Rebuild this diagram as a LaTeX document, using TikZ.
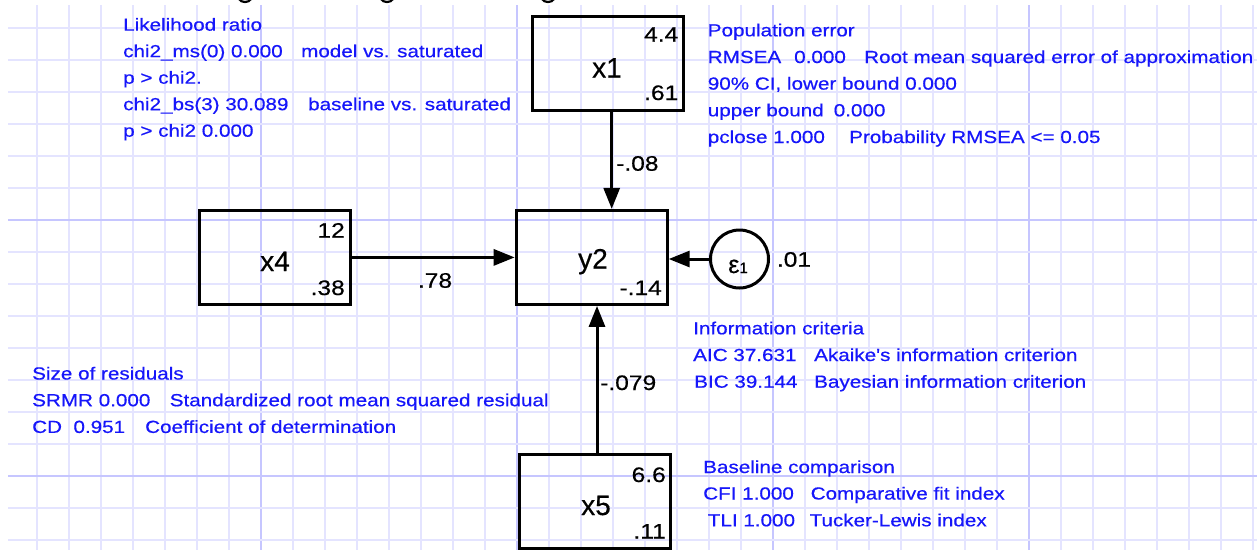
\documentclass[tikz,border=0pt]{standalone}
\usepackage{fontspec}
\setmainfont{Liberation Sans}
\newfontfamily\statsans[FakeStretch=1.18,FakeBold=0.5]{Liberation Sans}
\newfontfamily\numsans[FakeStretch=1.17,FakeBold=0.5]{Liberation Sans}
\newfontfamily\namesans[FakeBold=0.4]{Liberation Sans}
\usetikzlibrary{arrows.meta}
\definecolor{gridminor}{RGB}{228,228,255}
\definecolor{gridmajor}{RGB}{198,198,255}
\definecolor{statblue}{RGB}{22,22,250}
\tikzset{
  varbox/.style={draw=black, line width=3pt, minimum width=151pt, minimum height=94pt, inner sep=0pt},
  errcirc/.style={draw=black, line width=3pt, circle, minimum size=58pt, inner sep=0pt},
  varname/.style={font=\namesans\fontsize{28}{28}\selectfont, anchor=base, inner sep=0pt},
  cornernum/.style={font=\numsans\fontsize{21}{21}\selectfont, anchor=base east, inner sep=0pt},
  pathnum/.style={font=\numsans\fontsize{21}{21}\selectfont, inner sep=0pt},
  statline/.style={font=\statsans\fontsize{17.5}{20}\selectfont, text=statblue, anchor=base west, inner sep=0pt},
  patharrow/.style={line width=3pt, -{Triangle[length=21pt,width=16pt]}},
  titlefrag/.style={line width=2.2pt, line cap=round},
  gminor/.style={draw=gridminor, line width=1.3pt},
  gmajor/.style={draw=gridmajor, line width=1.6pt}
}
\begin{document}
\begin{tikzpicture}[x=1pt, y=-1pt]
\useasboundingbox (0,0) rectangle (1257,550);
\fill[white] (0,0) rectangle (1257,550);
% grid
\foreach \k in {1,...,39}{
  \pgfmathtruncatemacro{\m}{mod(\k,8)}
  \ifnum\m=0
    \draw[gmajor] (5+32*\k,5) -- (5+32*\k,550);
  \else
    \draw[gminor] (5+32*\k,5) -- (5+32*\k,550);
  \fi
}
\foreach \j in {-6,...,10}{
  \pgfmathtruncatemacro{\m}{mod(\j+16,8)}
  \ifnum\m=0
    \draw[gmajor] (8,220+32*\j) -- (1257,220+32*\j);
  \else
    \draw[gminor] (8,220+32*\j) -- (1257,220+32*\j);
  \fi
}
% cut-off bottoms of the title glyphs
\foreach \gx in {245,387,548}{
  \draw[titlefrag] (\gx-6,-1) .. controls (\gx-4,3) and (\gx+4,3) .. (\gx+6,-1);
}
% boxes
\node[varbox] (x1) at (608,63) {};
\node[varbox] (x4) at (275,257.4) {};
\node[varbox] (y2) at (591.7,257.4) {};
\node[varbox] (x5) at (595,501) {};
\node[errcirc] (e1) at (739.5,259) {};
% names
\node[varname] (x1l) at (607,77.5) {x1};
\node[varname] (x4l) at (275,271) {x4};
\node[varname] (y2l) at (593,268.5) {y2};
\node[varname] (x5l) at (596,515) {x5};
\node[anchor=base, inner sep=0pt] (e1l) at (738,273) {{\namesans\fontsize{25}{25}\selectfont ε}{\namesans\fontsize{15}{15}\selectfont 1}};
% corner numbers
\node[cornernum] (x1m) at (678.5,41.7) {4.4};
\node[cornernum] (x1v) at (678.5,100) {.61};
\node[cornernum] (x4m) at (345,237.7) {12};
\node[cornernum] (x4v) at (345,295) {.38};
\node[cornernum] (y2c) at (662,295) {-.14};
\node[cornernum] (x5m) at (666,482) {6.6};
\node[cornernum] (x5v) at (666,538.5) {.11};
% connectors
\coordinate (c1) at (611.7,0);
\coordinate (c5) at (597,0);
\draw[patharrow] (x1.south -| c1) -- (y2.north -| c1);
\draw[patharrow] (x4.east) -- (y2.west);
\draw[patharrow] (x5.north -| c5) -- (y2.south -| c5);
\draw[patharrow] (e1.west) -- (e1.west -| y2.east);
% path labels
\node[pathnum, anchor=base] (l78) at (435,287.7) {.78};
\node[pathnum, anchor=base west] (l08) at (616,170.7) {-.08};
\node[pathnum, anchor=base west] (l079) at (600,390) {-.079};
\node[pathnum, anchor=base west] (l01) at (776.7,266.7) {.01};
% likelihood ratio
\node[statline] (lr0) at (123,30.7) {Likelihood ratio};
\node[statline] (lr1) at (123,57.2) {\makebox[178pt][l]{chi2\_ms(0) 0.000}model vs. saturated};
\node[statline] (lr2) at (123,83.7) {p > chi2.};
\node[statline] (lr3) at (123,110.2) {\makebox[185pt][l]{chi2\_bs(3) 30.089}baseline vs. saturated};
\node[statline] (lr4) at (123,136.7) {p > chi2 0.000};
% population error
\node[statline] (pe0) at (707.6,36.3) {Population error};
\node[statline] (pe1) at (707.6,63) {\makebox[86.4pt][l]{RMSEA}\makebox[70pt][l]{0.000}Root mean squared error of approximation};
\node[statline] (pe2) at (707.6,89.6) {90\% CI, lower bound 0.000};
\node[statline] (pe3) at (707.6,116.3) {\makebox[126pt][l]{upper bound}0.000};
\node[statline] (pe4) at (707.6,143) {\makebox[141.4pt][l]{pclose 1.000}Probability RMSEA <= 0.05};
% information criteria
\node[statline] (ic0) at (693,334.3) {Information criteria};
\node[statline] (ic1) at (693,361) {\makebox[121pt][l]{AIC 37.631}Akaike's information criterion};
\node[statline] (ic2) at (694,387.7) {\makebox[120pt][l]{BIC 39.144}Bayesian information criterion};
% size of residuals
\node[statline] (sr0) at (32,379.5) {Size of residuals};
\node[statline] (sr1) at (32,406.2) {\makebox[137.6pt][l]{SRMR 0.000}Standardized root mean squared residual};
\node[statline] (sr2) at (32,432.9) {\makebox[113pt][l]{CD\ \ 0.951}Coefficient of determination};
% baseline comparison
\node[statline] (bc0) at (703,473) {Baseline comparison};
\node[statline] (bc1) at (703,499.5) {\makebox[107.5pt][l]{CFI 1.000}Comparative fit index};
\node[statline] (bc2) at (707.6,526.3) {\makebox[101.8pt][l]{TLI 1.000}Tucker-Lewis index};
\end{tikzpicture}
\end{document}
